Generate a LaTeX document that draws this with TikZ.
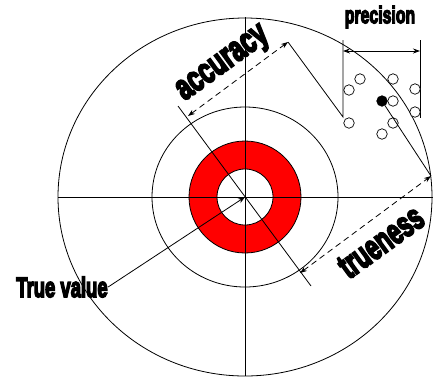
\documentclass[tikz,border=0pt]{standalone}
\usepackage{fontspec}
\newfontfamily\hvb{Liberation Sans Bold}[FakeBold=6]
\usetikzlibrary{arrows.meta}
\begin{document}
\begin{tikzpicture}[x=1pt,y=-1pt,line width=0.8pt,
  tips/.style={{Stealth[length=7pt,width=5pt]}-{Stealth[length=7pt,width=5pt]}},
  tip/.style={-{Stealth[length=7pt,width=5pt]}},
  dsh/.style={dash pattern=on 6pt off 4pt},
  pt/.style={circle,draw,minimum size=10.5pt,inner sep=0pt,line width=0.7pt,fill=white},
  lbl/.style={font=\hvb,inner sep=0pt}]
\useasboundingbox (0,0) rectangle (433,376);
\coordinate (C) at (245,197);
% target rings
\draw (C) ellipse [x radius=187, y radius=179];
\draw (C) ellipse [x radius=93, y radius=90];
\fill[red,even odd rule] (C) circle[radius=56] (C) circle[radius=28];
\draw (C) circle[radius=56];
\draw (C) circle[radius=28];
% axes
\coordinate (hl) at (58,197); \coordinate (hr) at (433,197);
\coordinate (vt) at (245,17); \coordinate (vb) at (245,376);
\draw (hl) -- (hr);
\draw (vt) -- (vb);
\coordinate (d1) at (178,106); \coordinate (d2) at (311,286);
\draw (d1) -- (d2);
% accuracy
\coordinate (a1) at (188,116); \coordinate (a2) at (288,42);
\draw[tips,dsh] (a1) -- (a2);
\coordinate (p1b) at (343,117); \coordinate (p1t) at (343,40);
\coordinate (p2t) at (420,40); \coordinate (p2b) at (420,118);
\draw (a2) -- (p1b) -- (p1t);
\draw (p2t) -- (p2b);
\coordinate (pa1) at (343,51); \coordinate (pa2) at (420,51);
\draw[tips] (pa1) -- (pa2);
% trueness
\coordinate (t1) at (300,273); \coordinate (t2) at (431,176);
\draw[tips,dsh] (t1) -- (t2);
% points
\node[pt] (q1) at (360,79) {};
\node[pt] (q2) at (349,90) {};
\node[pt] (q3) at (393,79) {};
\node[pt] (q4) at (415,89) {};
\node[pt] (q5) at (393,101) {};
\node[pt] (q6) at (415,112) {};
\node[pt] (q7) at (393,123) {};
\node[pt] (q8) at (382,134) {};
\node[pt] (q9) at (349,123) {};
\node[pt,fill=black] (m) at (382,101) {};
\draw (m) -- (t2);
% labels
\node[lbl] (prec) at (380,17) {\fontsize{24}{24}\selectfont\scalebox{0.66}[1]{precision}};
\node[lbl,rotate=36] (acc) at (224,65) {\fontsize{36}{36}\selectfont\scalebox{0.68}[1]{accuracy}};
\node[lbl,rotate=36] (tru) at (381,242) {\fontsize{36}{36}\selectfont\scalebox{0.64}[1]{trueness}};
\node[lbl] (tv) at (62,287) {\fontsize{28}{28}\selectfont\scalebox{0.66}[1]{True value}};
\draw[tip] (tv.east) -- (C);
\end{tikzpicture}
\end{document}
